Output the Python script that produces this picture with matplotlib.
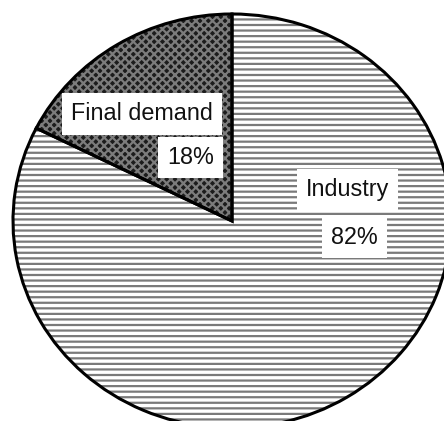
import matplotlib
matplotlib.use("Agg")
import matplotlib.pyplot as plt

categories = ["Final demand", "Industry"]
values = [17.6, 82.4]

plt.rcParams['font.family'] = ['Liberation Sans', 'DejaVu Sans']
plt.rcParams['hatch.linewidth'] = 1.6

W, H = 444, 421
fig = plt.figure(figsize=(W / 100, H / 100), dpi=100)
# pie ellipse: center (232,221) px, radii 219 x 207
cx, cy, rx, ry = 232, 221, 219, 207
ax = fig.add_axes([(cx - rx) / W, (H - (cy + ry)) / H, 2 * rx / W, 2 * ry / H])

face = ["#1c1c1c", "white"]
hatch_col = ["#7c7c7c", "#7a7a7a"]
hatches = ["xxxx", "---"]

wedges, _ = ax.pie(values, startangle=90, counterclock=True,
                   wedgeprops=dict(linewidth=0))
for w, fc in zip(wedges, face):
    w.set_facecolor(fc)

# hatch overlay
wh, _ = ax.pie(values, startangle=90, counterclock=True,
               wedgeprops=dict(linewidth=0, fill=False))
for w, hc, ht in zip(wh, hatch_col, hatches):
    w.set_edgecolor(hc)
    w.set_hatch(ht)

# outlines
wo, _ = ax.pie(values, startangle=90, counterclock=True,
               wedgeprops=dict(linewidth=2.2, fill=False, edgecolor="black"))

ax.set_aspect('auto')
ax.set_xlim(-1, 1)
ax.set_ylim(-1, 1)
ax.axis('off')
for w in wedges + wh + wo:
    w.set_clip_on(False)

box = dict(facecolor='white', edgecolor='none', pad=6.5)
label_pos = [(-0.409, 0.517), (0.527, 0.150)]
pct_pos = [(-0.189, 0.307), (0.559, -0.080)]
total = sum(values)
for cat, v, lp, pp in zip(categories, values, label_pos, pct_pos):
    ax.text(lp[0], lp[1], cat, ha='center', va='center', fontsize=16.8,
            color='#111111', bbox=box)
    ax.text(pp[0], pp[1], f"{v / total * 100:.0f}%", ha='center', va='center',
            fontsize=16.8, color='#111111', bbox=box)

fig.savefig("out.png", dpi=100)
